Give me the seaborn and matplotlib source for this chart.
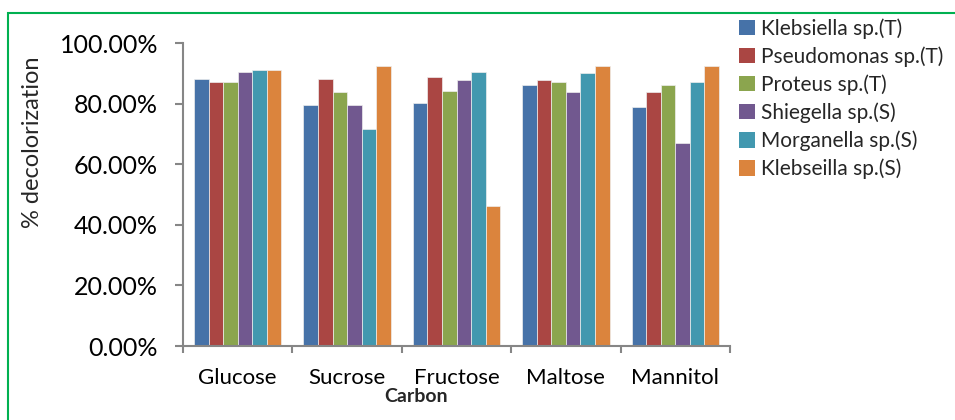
import matplotlib
matplotlib.use("Agg")
import matplotlib.pyplot as plt
from matplotlib.patches import Rectangle, Patch
from matplotlib.ticker import FixedLocator, FuncFormatter, NullFormatter
import pandas as pd
import seaborn as sns

# Carbon sources (x categories) and bacterial strains (hue)
carbons = ["Glucose", "Sucrose", "Fructose", "Maltose", "Mannitol"]
strains = ["Klebsiella sp.(T)", "Pseudomonas sp.(T)", "Proteus sp.(T)",
           "Shiegella sp.(S)", "Morganella sp.(S)", "Klebseilla sp.(S)"]

# Fraction decolorized per strain, in carbon order
klebsiella_t = [0.883, 0.797, 0.802, 0.861, 0.790]
pseudomonas_t = [0.872, 0.883, 0.890, 0.878, 0.839]
proteus_t = [0.872, 0.839, 0.843, 0.872, 0.861]
shiegella_s = [0.906, 0.797, 0.878, 0.839, 0.670]
morganella_s = [0.913, 0.718, 0.906, 0.902, 0.872]
klebseilla_s = [0.913, 0.924, 0.462, 0.924, 0.924]

y_ticks = [0.0, 0.2, 0.4, 0.6, 0.8, 1.0]
colors = ["#4672A8", "#AA4643", "#8BA54E", "#71588F", "#4298AF", "#DB843D"]

series = [klebsiella_t, pseudomonas_t, proteus_t, shiegella_s, morganella_s, klebseilla_s]
rows = []
for strain, vals in zip(strains, series):
    for carbon, v in zip(carbons, vals):
        rows.append({"Carbon": carbon, "Strain": strain, "value": v})
df = pd.DataFrame(rows)

sns.set_style("white")
plt.rcParams["font.family"] = ["Lato", "DejaVu Sans"]

W, H = 955, 420
fig = plt.figure(figsize=(W / 100, H / 100), dpi=100)
ax = fig.add_axes([183 / W, 1 - 346 / H, (730 - 183) / W, (346 - 43.3) / H])

sns.barplot(data=df, x="Carbon", y="value", hue="Strain", order=carbons,
            hue_order=strains, palette=colors, saturation=1, width=0.8,
            edgecolor="#eeeeee", linewidth=0.5, ax=ax, legend=False)

axis_gray = "#868686"
ax.set_ylim(0, 1.0)
ax.set_xlim(-0.5, len(carbons) - 0.5)
for side in ["top", "right"]:
    ax.spines[side].set_visible(False)
for side in ["left", "bottom"]:
    ax.spines[side].set_color(axis_gray)
    ax.spines[side].set_linewidth(1.5)

ax.yaxis.set_major_locator(FixedLocator(y_ticks))
ax.yaxis.set_major_formatter(FuncFormatter(lambda v, p: f"{v * 100:.2f}%"))
ax.tick_params(axis="y", which="major", direction="out", length=6, width=1.5,
               color=axis_gray, labelsize=18, pad=12, labelcolor="black", left=True)

# Ticks on category boundaries, labels at centers
ax.xaxis.set_major_locator(FixedLocator([i - 0.5 for i in range(len(carbons) + 1)]))
ax.xaxis.set_major_formatter(NullFormatter())
ax.xaxis.set_minor_locator(FixedLocator(range(len(carbons))))
ax.xaxis.set_minor_formatter(FuncFormatter(lambda v, p: carbons[int(round(v))]))
ax.tick_params(axis="x", which="major", direction="out", length=5, width=1.5,
               color=axis_gray, bottom=True)
ax.tick_params(axis="x", which="minor", length=0, labelsize=16, pad=16,
               labelcolor="black")
ax.set_xlabel("")
ax.set_ylabel("")

fig.text(416 / W, 1 - 397 / H, "Carbon", ha="center", va="center",
         fontsize=14, fontweight="bold")
fig.text(33 / W, 1 - 142 / H, "% decolorization", ha="center", va="center",
         rotation=90, fontsize=17)

handles = [Patch(facecolor=c, edgecolor="none") for c in colors]
fig.legend(handles, strains, loc="upper left", bbox_to_anchor=(733 / W, 1 - 12 / H),
           frameon=False, fontsize=15, handlelength=0.75, handleheight=0.75,
           handletextpad=0.3, labelspacing=0.36, borderaxespad=0, borderpad=0.3)

fig.add_artist(Rectangle((7.5 / W, -0.1), 1.2, 1 - 12.5 / H + 0.1,
                         transform=fig.transFigure, fill=False,
                         edgecolor="#00B050", linewidth=1.5, clip_on=False))

fig.savefig("out.png", dpi=100)
